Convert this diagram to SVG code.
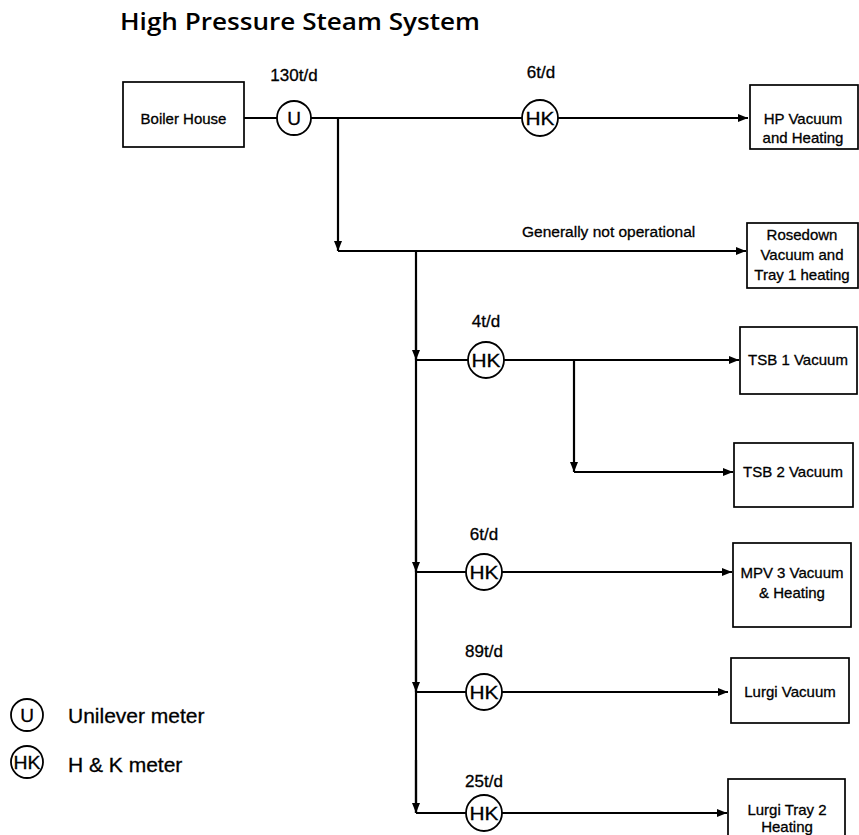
<svg xmlns="http://www.w3.org/2000/svg" width="859" height="835" viewBox="0 0 859 835">
<style>
.box{fill:#fff;stroke:#000;stroke-width:1.7}
.meter{fill:#fff;stroke:#000;stroke-width:1.8}
.t{font-family:"Liberation Sans",Arial,sans-serif;fill:#000;stroke:#000;stroke-width:0.3}
.bt{font-size:15px;text-anchor:middle}
.lbl{font-size:17px;text-anchor:middle}
.mt{font-size:19px;text-anchor:middle}
.ln{fill:none;stroke:#000;stroke-width:2.2}
.ar{marker-end:url(#ah)}
</style>
<defs>
<marker id="ah" markerWidth="10" markerHeight="8" refX="10" refY="4" orient="auto" markerUnits="userSpaceOnUse">
<path d="M0,0 L10,4 L0,8 Z" fill="#000"/>
</marker>
</defs>
<rect width="859" height="835" fill="#fff"/>
<text x="120" y="30" font-family="Open Sans, DejaVu Sans, sans-serif" font-weight="600" font-size="23" textLength="360" lengthAdjust="spacingAndGlyphs" fill="#000">High Pressure Steam System</text>

<g id="connectors">
<path class="ln" d="M244,118 H277"/>
<path class="ln" d="M311,118 H522"/>
<path class="ln ar" d="M558,118 H748" stroke-width="2.6"/>
<path class="ln ar" d="M338,118 V251"/>
<path class="ln ar" d="M338,251 H746"/>
<path class="ln" d="M416,251 V813"/>
<path class="ln ar" d="M416,300 V360"/>
<path class="ln" d="M416,360 H468"/>
<path class="ln ar" d="M504,360 H739"/>
<path class="ln ar" d="M574,360 V472"/>
<path class="ln ar" d="M574,472 H733"/>
<path class="ln ar" d="M416,520 V572"/>
<path class="ln" d="M416,572 H466"/>
<path class="ln ar" d="M502,572 H732"/>
<path class="ln ar" d="M416,640 V692"/>
<path class="ln" d="M416,692 H466"/>
<path class="ln ar" d="M502,692 H728"/>
<path class="ln ar" d="M416,760 V813"/>
<path class="ln" d="M416,813 H466"/>
<path class="ln ar" d="M502,813 H727"/>
</g>

<g id="boiler-house">
<rect class="box" x="123" y="82" width="121" height="65"/>
<text class="t bt" x="183.5" y="124">Boiler House</text>
</g>
<g id="meter-u">
<circle class="meter" cx="294" cy="118" r="17"/>
<text class="t mt" x="294" y="125">U</text>
<text class="t lbl" x="294" y="81">130t/d</text>
</g>
<g id="meter-hk-hp">
<circle class="meter" cx="540" cy="118" r="18"/>
<text class="t mt" x="540" y="125" textLength="29" lengthAdjust="spacingAndGlyphs">HK</text>
<text class="t lbl" x="541" y="78">6t/d</text>
</g>
<g id="hp-vacuum">
<rect class="box" x="750" y="85" width="108" height="64"/>
<text class="t bt" x="803" y="124">HP Vacuum</text>
<text class="t bt" x="803" y="143">and Heating</text>
</g>
<g id="rosedown">
<rect class="box" x="747" y="223" width="111" height="65"/>
<text class="t bt" x="802" y="240">Rosedown</text>
<text class="t bt" x="802" y="260">Vacuum and</text>
<text class="t bt" x="802" y="280">Tray 1 heating</text>
</g>
<text class="t" x="522" y="237" font-size="15.5">Generally not operational</text>

<g id="meter-hk-tsb">
<circle class="meter" cx="486" cy="360" r="18"/>
<text class="t mt" x="486" y="367" textLength="29" lengthAdjust="spacingAndGlyphs">HK</text>
<text class="t lbl" x="486" y="327">4t/d</text>
</g>
<g id="tsb1">
<rect class="box" x="740" y="327" width="117" height="67"/>
<text class="t bt" x="798" y="365">TSB 1 Vacuum</text>
</g>
<g id="tsb2">
<rect class="box" x="734" y="443" width="119" height="64"/>
<text class="t bt" x="793" y="477">TSB 2 Vacuum</text>
</g>

<g id="meter-hk-mpv">
<circle class="meter" cx="484" cy="572" r="18"/>
<text class="t mt" x="484" y="579" textLength="29" lengthAdjust="spacingAndGlyphs">HK</text>
<text class="t lbl" x="484" y="540">6t/d</text>
</g>
<g id="mpv3">
<rect class="box" x="733" y="543" width="118" height="84"/>
<text class="t bt" x="792" y="578">MPV 3 Vacuum</text>
<text class="t bt" x="792" y="598">&amp; Heating</text>
</g>

<g id="meter-hk-lurgi">
<circle class="meter" cx="484" cy="692" r="18"/>
<text class="t mt" x="484" y="699" textLength="29" lengthAdjust="spacingAndGlyphs">HK</text>
<text class="t lbl" x="484" y="657">89t/d</text>
</g>
<g id="lurgi-vacuum">
<rect class="box" x="731" y="658" width="118" height="65"/>
<text class="t bt" x="790" y="697">Lurgi Vacuum</text>
</g>

<g id="meter-hk-tray2">
<circle class="meter" cx="484" cy="813" r="18"/>
<text class="t mt" x="484" y="820" textLength="29" lengthAdjust="spacingAndGlyphs">HK</text>
<text class="t lbl" x="484" y="787">25t/d</text>
</g>
<g id="lurgi-tray2">
<rect class="box" x="728" y="779" width="117" height="70"/>
<text class="t bt" x="787" y="815">Lurgi Tray 2</text>
<text class="t bt" x="787" y="832">Heating</text>
</g>

<g id="legend">
<circle class="meter" cx="27" cy="715" r="16"/>
<text class="t mt" x="27" y="722">U</text>
<text class="t" x="68" y="723" font-size="21">Unilever meter</text>
<circle class="meter" cx="27" cy="762" r="16"/>
<text class="t mt" x="27" y="769" textLength="27" lengthAdjust="spacingAndGlyphs">HK</text>
<text class="t" x="68" y="772" font-size="21">H &amp; K meter</text>
</g>
</svg>
